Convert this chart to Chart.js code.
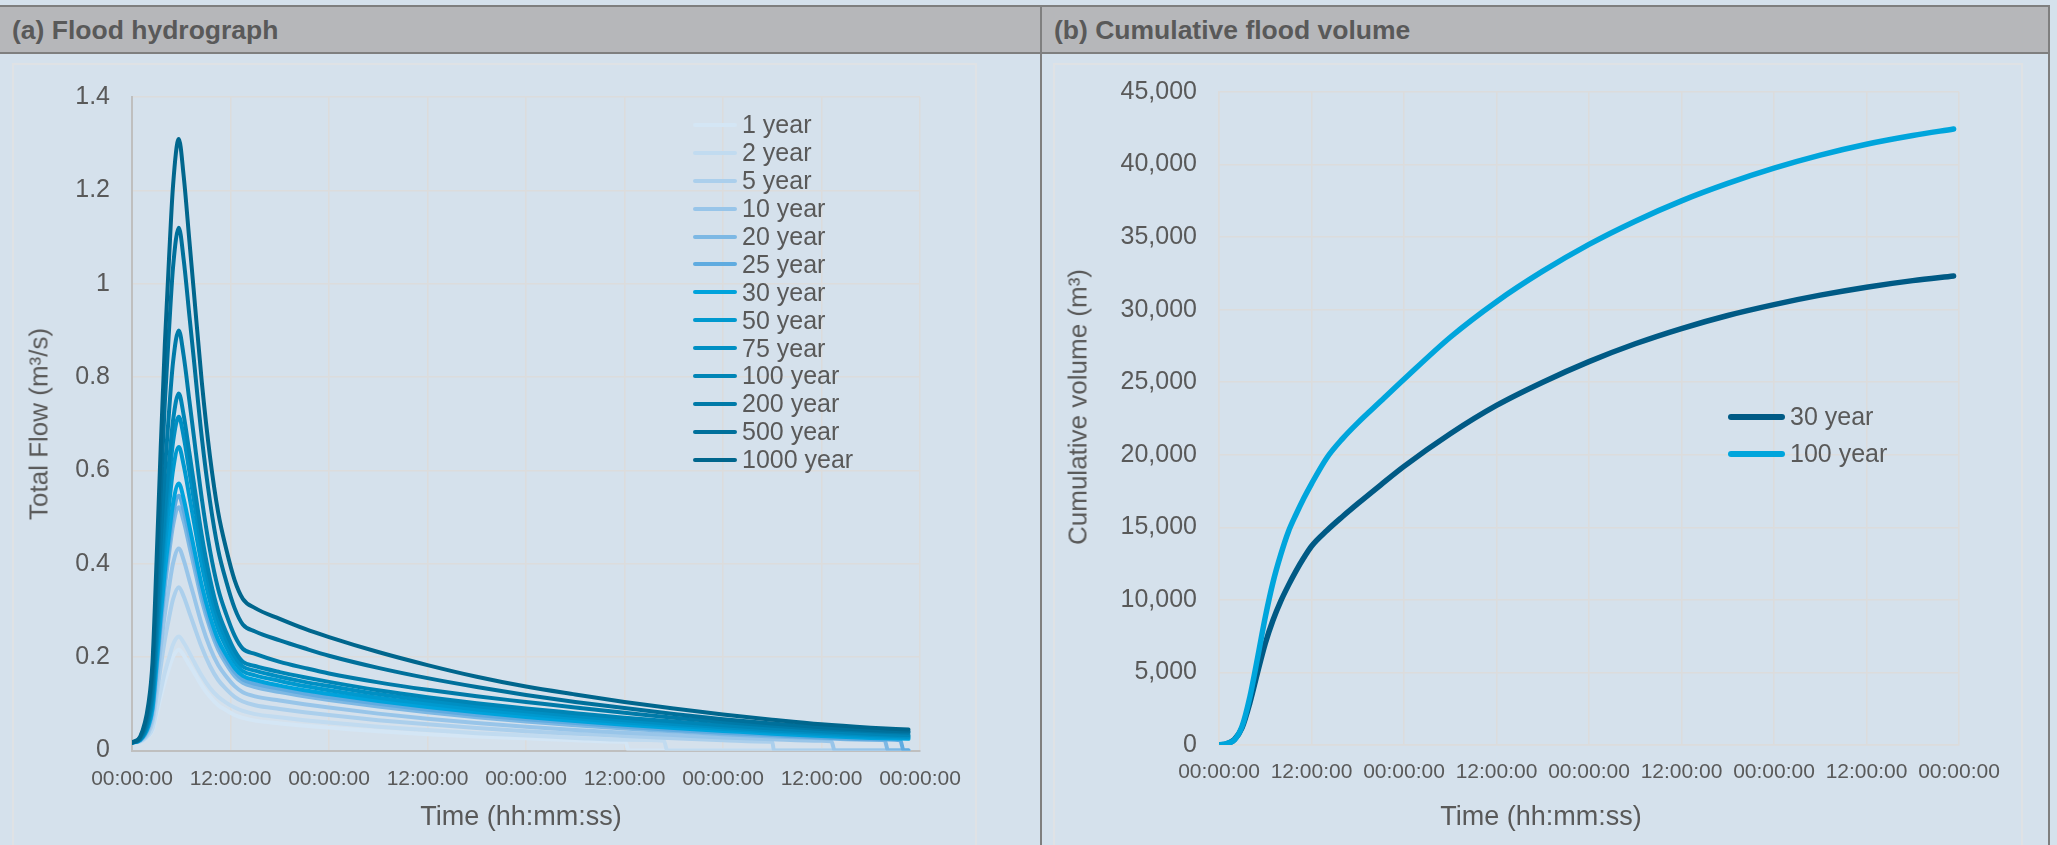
<!DOCTYPE html>
<html>
<head>
<meta charset="utf-8">
<script src="https://cdn.jsdelivr.net/npm/chart.js@4.4.1/dist/chart.umd.min.js"></script>
<style>
  html, body { margin: 0; padding: 0; }
  body { width: 2057px; height: 845px; background: #d5e1ec; position: relative; overflow: hidden;
         font-family: 'Liberation Sans', Arial, sans-serif; }
  .head { position: absolute; top: 5px; height: 45px; line-height: 47px; background: #b6b7ba;
          border-top: 2px solid #7f7f7f; border-bottom: 2px solid #7f7f7f; color: #595959;
          font-weight: bold; font-size: 26.5px; padding-left: 12px; }
  .vline { position: absolute; top: 5px; bottom: 0; width: 2px; background: #7f7f7f; }
  .box { position: absolute; top: 63px; height: 800px; border: 2px solid #dfe2e5; box-sizing: border-box; }
  canvas { position: absolute; }
  .legend { position: absolute; color: #595959; font-size: 25px; }
  .legend .row { display: flex; align-items: center; white-space: nowrap; }
  .legend .swatch { display: inline-block; border-radius: 3px; margin-right: 5px; }
  .axis-title { position: absolute; color: #595959; white-space: nowrap; transform: translate(-50%, -50%); }
  .axis-title.vert { transform: translate(-50%, -50%) rotate(-90deg); }
</style>
</head>
<body>
<div class="head" style="left:0; width:1028px;">(a) Flood hydrograph</div>
<div class="head" style="left:1042px; width:994px;">(b) Cumulative flood volume</div>
<div class="vline" style="left:1040px;"></div>
<div class="vline" style="left:2048px;"></div>
<div class="box" style="left:12px; width:965px;"></div>
<div class="box" style="left:1053px; width:970px;"></div>
<canvas id="flowChart" width="965" height="782" style="left:12px; top:63px;"></canvas>
<canvas id="volumeChart" width="970" height="782" style="left:1053px; top:63px;"></canvas>
<div class="axis-title vert" style="left:39px; top:424px; font-size:26px;">Total Flow (m³/s)</div>
<div class="axis-title" style="left:521px; top:816px; font-size:27px;">Time (hh:mm:ss)</div>
<div class="axis-title vert" style="left:1078px; top:407px; font-size:26px;">Cumulative volume (m³)</div>
<div class="axis-title" style="left:1541px; top:816px; font-size:27px;">Time (hh:mm:ss)</div>
<div class="legend" id="flowLegend" style="left:693px; top:111px;"></div>
<div class="legend" id="volumeLegend" style="left:1728px; top:398px;"></div>

<script>
// ---- data: flood hydrograph (m3/s), hours since start ----
const flowHours = [0, 1, 2, 2.5, 3, 3.5, 4, 4.5, 5, 5.7, 6.3, 7, 7.5, 8.5, 9.5, 10.5, 11.5, 12.5, 13.5,
                   15, 18, 21, 24, 30, 36, 42, 48, 54, 60, 66, 72, 78, 84, 90, 94.6];

const returnPeriods = ['1 year', '2 year', '5 year', '10 year', '20 year', '25 year', '30 year',
                       '50 year', '75 year', '100 year', '200 year', '500 year', '1000 year'];

const flow1 = [0.017, 0.019, 0.03, 0.044, 0.077, 0.115, 0.148, 0.176, 0.201, 0.216, 0.204, 0.183, 0.169, 0.139, 0.115, 0.097, 0.086, 0.076, 0.07,
               0.064, 0.058, 0.053, 0.049, 0.041, 0.035, 0.03, 0.026, 0.022, 0.019, 0, 0, 0, 0, 0, 0];
const flow2 = [0.017, 0.019, 0.032, 0.047, 0.086, 0.128, 0.167, 0.198, 0.227, 0.244, 0.231, 0.209, 0.192, 0.16, 0.134, 0.115, 0.102, 0.092, 0.085,
               0.078, 0.071, 0.065, 0.06, 0.051, 0.044, 0.037, 0.032, 0.027, 0.023, 0, 0, 0, 0, 0, 0];
const flow5 = [0.017, 0.02, 0.038, 0.062, 0.118, 0.18, 0.237, 0.283, 0.324, 0.35, 0.33, 0.295, 0.27, 0.221, 0.181, 0.151, 0.131, 0.115, 0.105,
               0.097, 0.089, 0.082, 0.076, 0.065, 0.056, 0.048, 0.041, 0.036, 0.031, 0.026, 0.022, 0.019, 0, 0, 0];
const flow10 = [0.017, 0.021, 0.044, 0.073, 0.143, 0.221, 0.292, 0.349, 0.401, 0.433, 0.408, 0.364, 0.333, 0.27, 0.22, 0.183, 0.158, 0.138, 0.125,
                0.116, 0.107, 0.099, 0.092, 0.079, 0.068, 0.059, 0.051, 0.044, 0.038, 0.033, 0.028, 0.024, 0.021, 0, 0];
const flow20 = [0.017, 0.022, 0.049, 0.085, 0.17, 0.264, 0.35, 0.42, 0.482, 0.521, 0.491, 0.437, 0.399, 0.322, 0.262, 0.216, 0.185, 0.16, 0.145,
                0.136, 0.125, 0.116, 0.108, 0.094, 0.082, 0.071, 0.062, 0.054, 0.047, 0.041, 0.035, 0.03, 0.026, 0.023, 0];
const flow25 = [0.017, 0.022, 0.051, 0.088, 0.178, 0.276, 0.366, 0.44, 0.505, 0.546, 0.514, 0.458, 0.418, 0.338, 0.274, 0.226, 0.194, 0.168, 0.152,
                0.143, 0.132, 0.122, 0.114, 0.1, 0.087, 0.076, 0.067, 0.059, 0.051, 0.044, 0.038, 0.033, 0.028, 0.024, 0];
const flow30 = [0.017, 0.023, 0.053, 0.091, 0.186, 0.289, 0.383, 0.46, 0.529, 0.572, 0.539, 0.48, 0.438, 0.354, 0.288, 0.237, 0.204, 0.177, 0.16,
                0.151, 0.139, 0.129, 0.121, 0.106, 0.093, 0.082, 0.072, 0.063, 0.055, 0.048, 0.042, 0.036, 0.031, 0.027, 0.025];
const flow50 = [0.017, 0.023, 0.058, 0.102, 0.209, 0.327, 0.435, 0.523, 0.601, 0.65, 0.611, 0.543, 0.494, 0.397, 0.319, 0.26, 0.221, 0.19, 0.17,
                0.161, 0.149, 0.138, 0.129, 0.113, 0.1, 0.088, 0.078, 0.069, 0.06, 0.053, 0.046, 0.04, 0.035, 0.03, 0.028];
const flow75 = [0.017, 0.024, 0.062, 0.11, 0.229, 0.359, 0.478, 0.575, 0.661, 0.715, 0.672, 0.596, 0.541, 0.433, 0.346, 0.281, 0.237, 0.202, 0.18,
                0.171, 0.158, 0.147, 0.138, 0.121, 0.107, 0.095, 0.084, 0.074, 0.065, 0.057, 0.05, 0.043, 0.038, 0.033, 0.03];
const flow100 = [0.017, 0.024, 0.065, 0.117, 0.244, 0.384, 0.511, 0.615, 0.707, 0.765, 0.718, 0.637, 0.578, 0.461, 0.368, 0.298, 0.252, 0.214, 0.19,
                 0.181, 0.168, 0.157, 0.147, 0.129, 0.114, 0.101, 0.09, 0.08, 0.07, 0.062, 0.054, 0.047, 0.041, 0.036, 0.033];
const flow200 = [0.017, 0.026, 0.074, 0.135, 0.285, 0.45, 0.6, 0.723, 0.832, 0.9, 0.845, 0.748, 0.678, 0.54, 0.429, 0.346, 0.291, 0.246, 0.218,
                 0.207, 0.19, 0.177, 0.165, 0.146, 0.13, 0.116, 0.104, 0.092, 0.081, 0.07, 0.061, 0.053, 0.046, 0.041, 0.038];
const flow500 = [0.017, 0.028, 0.088, 0.165, 0.352, 0.557, 0.745, 0.898, 1.035, 1.12, 1.051, 0.93, 0.844, 0.671, 0.534, 0.43, 0.361, 0.305, 0.27,
                 0.255, 0.236, 0.219, 0.203, 0.177, 0.155, 0.136, 0.119, 0.104, 0.091, 0.078, 0.067, 0.058, 0.05, 0.044, 0.041];
const flow1000 = [0.017, 0.03, 0.1, 0.19, 0.41, 0.65, 0.87, 1.05, 1.21, 1.31, 1.23, 1.09, 0.99, 0.79, 0.63, 0.51, 0.43, 0.365, 0.325,
                  0.305, 0.282, 0.261, 0.243, 0.211, 0.183, 0.158, 0.137, 0.12, 0.104, 0.09, 0.077, 0.066, 0.056, 0.049, 0.045];

const flowSeries = [flow1, flow2, flow5, flow10, flow20, flow25, flow30, flow50, flow75, flow100, flow200, flow500, flow1000];

// where the short records fall back to zero (hour) and the flow just before it
const dropHour = [60.5, 65.2, 78.2, 85.6, 92.1, 94.0, null, null, null, null, null, null, null];
const preDropFlow = [0.019, 0.021, 0.019, 0.02, 0.022, 0.022, null, null, null, null, null, null, null];

// ---- data: cumulative flood volume (m3) ----
const volHours = [0, 1, 2, 3, 4, 5, 6, 7, 8, 9, 10, 11, 12, 14, 16, 18, 21, 24, 30, 36, 42, 48, 54, 60, 66, 72, 78, 84, 90, 95.3];
const vol30 = [0, 80, 380, 1200, 2900, 5000, 7000, 8600, 9900, 11000, 12000, 12900, 13700, 14780, 15730, 16630, 17930, 19200,
               21450, 23400, 25000, 26420, 27650, 28700, 29600, 30350, 31000, 31550, 32000, 32320];
const vol100 = [0, 100, 350, 1300, 3300, 6000, 8800, 11200, 13100, 14700, 15900, 17000, 18000, 19800, 21100, 22200, 23700, 25200,
                28100, 30550, 32650, 34500, 36100, 37500, 38700, 39750, 40650, 41400, 42000, 42450];
const volLabels = ['30 year', '100 year'];

const timeTicks = ['00:00:00', '12:00:00', '00:00:00', '12:00:00', '00:00:00', '12:00:00', '00:00:00', '12:00:00', '00:00:00'];

// ---- styles ----
const flowColors = ['#d4e6f5', '#c1dbf0', '#abcfec', '#98c5e9', '#7db8e4', '#5fabe0', '#00a3dc',
                    '#0099cf', '#008fc3', '#0085b6', '#007aa8', '#00709b', '#00668d'];
const volColors = ['#005a85', '#00a5dc'];
const textColor = '#595959';
const gridColor = '#dcdcdc';

Chart.defaults.font.family = "'Liberation Sans', Arial, sans-serif";
Chart.defaults.color = textColor;

function timeTick(value, index) {
    return timeTicks[index];
}

// fixed axis boxes so the plot area sits where the original has it
function xAxis(height, pad) {
    return {
        type: 'linear', min: 0, max: 96,
        ticks: { stepSize: 12, callback: timeTick, padding: pad, maxRotation: 0, autoSkip: false, font: { size: 21 } },
        grid: { color: gridColor, lineWidth: 1.5, drawTicks: false },
        afterFit: (s) => { s.height = height; s.paddingLeft = 0; s.paddingRight = 0; }
    };
}

function yAxis(width) {
    return (s) => { s.width = width; s.paddingTop = 0; s.paddingBottom = 0; };
}

const flowDatasets = returnPeriods.map((label, i) => {
    const pts = flowHours.map((h, j) => ({ x: h, y: flowSeries[i][j] }));
    if (dropHour[i] !== null) {
        pts.push({ x: dropHour[i] - 0.4, y: preDropFlow[i] }, { x: dropHour[i], y: 0 });
        pts.sort((a, b) => a.x - b.x);
    }
    return {
        label: label, data: pts, borderColor: flowColors[i], borderWidth: 4,
        pointRadius: 0, cubicInterpolationMode: 'monotone', fill: false,
        borderCapStyle: 'round', borderJoinStyle: 'round',
        order: returnPeriods.length - i
    };
});

const flowX = xAxis(94.5, 16);
flowX.border = { color: '#bfbfbf', width: 2 };

const flowChart = new Chart(document.getElementById('flowChart'), {
    type: 'line',
    data: { datasets: flowDatasets },
    options: {
        responsive: false, animation: false,
        layout: { padding: { top: 34, right: 57, bottom: 0, left: 0 } },
        plugins: { legend: { display: false }, tooltip: { enabled: false } },
        scales: {
            x: flowX,
            y: {
                min: 0, max: 1.4,
                ticks: { stepSize: 0.2, padding: 22, font: { size: 25 }, callback: (v) => +v.toFixed(1) },
                grid: { color: gridColor, lineWidth: 1.5, drawTicks: false },
                border: { color: '#bfbfbf', width: 2 },
                afterFit: yAxis(120)
            }
        }
    }
});

const volX = xAxis(100, 15);
volX.border = { color: gridColor, width: 1.5 };

const volumeChart = new Chart(document.getElementById('volumeChart'), {
    type: 'line',
    data: {
        datasets: [vol30, vol100].map((vals, i) => ({
            label: volLabels[i],
            data: volHours.map((h, j) => ({ x: h, y: vals[j] })),
            borderColor: volColors[i], borderWidth: 5.5, pointRadius: 0,
            cubicInterpolationMode: 'monotone', fill: false,
            borderCapStyle: 'round', borderJoinStyle: 'round',
            order: 2 - i
        }))
    },
    options: {
        responsive: false, animation: false,
        layout: { padding: { top: 29, right: 64, bottom: 0, left: 0 } },
        plugins: { legend: { display: false }, tooltip: { enabled: false } },
        scales: {
            x: volX,
            y: {
                min: 0, max: 45000,
                ticks: { stepSize: 5000, padding: 22, font: { size: 25 }, callback: (v) => v.toLocaleString('en-US') },
                grid: { color: gridColor, lineWidth: 1.5, drawTicks: false },
                border: { color: gridColor, width: 1.5 },
                afterFit: yAxis(166)
            }
        }
    }
});

// html legends, built from the datasets
function buildLegend(el, chart, rowHeight, swatchW, swatchH) {
    chart.data.datasets.forEach((ds) => {
        const row = document.createElement('div');
        row.className = 'row';
        row.style.height = rowHeight + 'px';
        const sw = document.createElement('span');
        sw.className = 'swatch';
        sw.style.width = swatchW + 'px';
        sw.style.height = swatchH + 'px';
        sw.style.background = ds.borderColor;
        const txt = document.createElement('span');
        txt.textContent = ds.label;
        row.appendChild(sw);
        row.appendChild(txt);
        el.appendChild(row);
    });
}

buildLegend(document.getElementById('flowLegend'), flowChart, 27.9, 44, 4);
buildLegend(document.getElementById('volumeLegend'), volumeChart, 37, 57, 6);
</script>
</body>
</html>
